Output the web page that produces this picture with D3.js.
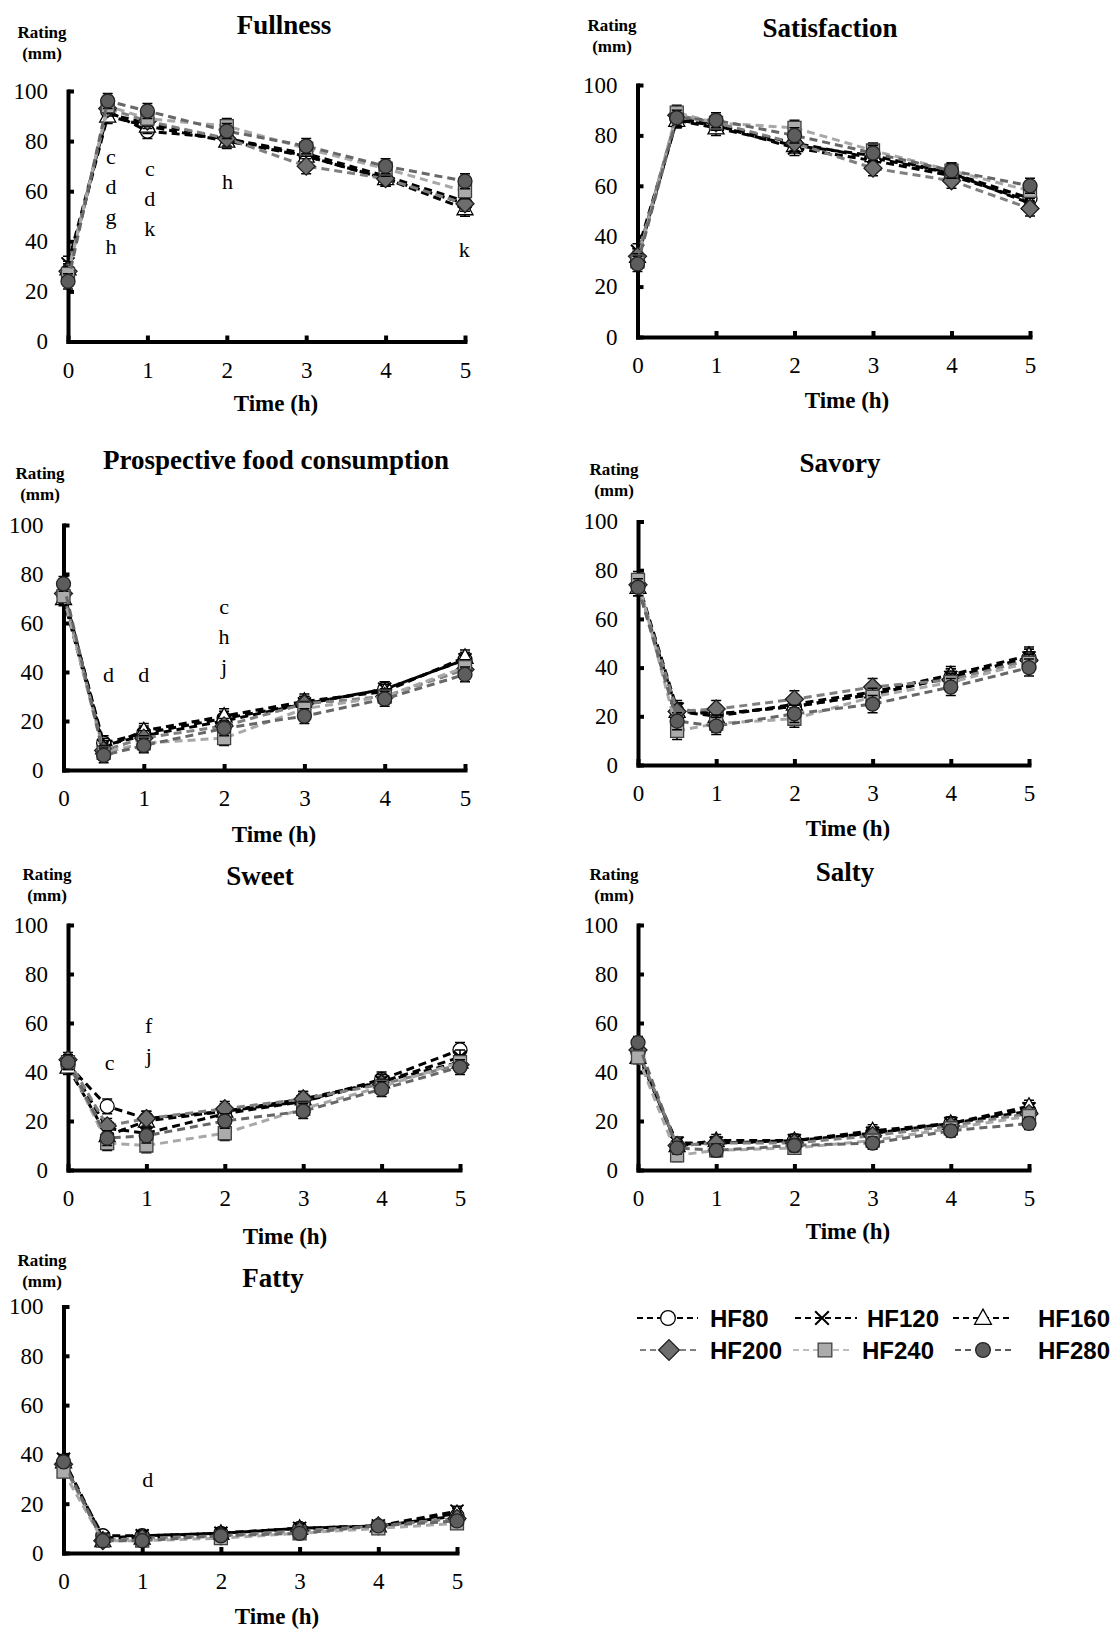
<!DOCTYPE html>
<html>
<head>
<meta charset="utf-8">
<script src="https://cdn.jsdelivr.net/npm/d3@7"></script>
<style>
  body { margin: 0; background: #fff; }
  svg { display: block; }
</style>
</head>
<body>
<svg id="chart" width="1117" height="1632"></svg>
<script>
// time points (h)
const times = [0, 0.5, 1, 2, 3, 4, 5];
const xTicks = [0, 1, 2, 3, 4, 5];
const yTicks = [0, 20, 40, 60, 80, 100];
const seriesNames = ["HF80", "HF120", "HF160", "HF200", "HF240", "HF280"];

// ratings (mm), one row per series in seriesNames order
const fullness = [
  [28, 92, 84, 81, 74, 65, 55],
  [31, 91, 87, 81, 75, 66, 56],
  [29, 90, 86, 80, 74, 65, 53],
  [28, 93, 88, 81, 70, 65, 55],
  [27, 94, 89, 86, 77, 69, 60],
  [24, 96, 92, 84, 78, 70, 64]
];
const satisfaction = [
  [31, 87, 84, 77, 71, 65, 55],
  [34, 86, 84, 75, 70, 64, 54],
  [32, 86, 83, 76, 72, 65, 53],
  [32, 88, 85, 77, 67, 62, 51],
  [30, 89, 85, 83, 74, 66, 58],
  [29, 87, 86, 80, 73, 66, 60]
];
const prospective = [
  [72, 11, 15, 21, 27, 33, 45],
  [73, 10, 14, 20, 27, 33, 45],
  [70, 9, 16, 22, 28, 32, 46],
  [72, 8, 13, 18, 27, 30, 41],
  [71, 7, 11, 13, 25, 30, 42],
  [76, 6, 10, 17, 22, 29, 39]
];
const savory = [
  [74, 22, 21, 24, 29, 36, 44],
  [75, 23, 21, 24, 29, 36, 44],
  [73, 22, 20, 25, 30, 37, 45],
  [74, 22, 23, 27, 32, 35, 43],
  [76, 14, 17, 19, 28, 34, 42],
  [73, 18, 16, 21, 25, 32, 40]
];
const sweet = [
  [43, 26, 21, 24, 28, 37, 49],
  [44, 17, 15, 23, 28, 36, 46],
  [42, 14, 20, 24, 29, 36, 44],
  [45, 18, 21, 25, 29, 35, 43],
  [44, 11, 10, 15, 25, 34, 44],
  [44, 13, 14, 20, 24, 33, 42]
];
const salty = [
  [48, 10, 11, 12, 15, 19, 24],
  [47, 11, 11, 12, 15, 19, 25],
  [46, 10, 12, 12, 16, 19, 26],
  [49, 10, 11, 11, 14, 18, 23],
  [46, 6, 8, 9, 12, 17, 22],
  [52, 9, 8, 10, 11, 16, 19]
];
const fatty = [
  [36, 7, 7, 8, 10, 11, 15],
  [38, 6, 7, 8, 10, 11, 17],
  [37, 5, 6, 8, 10, 11, 16],
  [36, 5, 6, 7, 9, 11, 14],
  [33, 5, 5, 6, 8, 10, 12],
  [37, 5, 5, 7, 8, 11, 13]
];

const panelTitles = ["Fullness", "Satisfaction", "Prospective food consumption",
  "Savory", "Sweet", "Salty", "Fatty"];
const panelData = [fullness, satisfaction, prospective, savory, sweet, salty, fatty];
const panelSem = [3, 3, 3, 3.5, 3, 2.5, 2];

// significance letters: panel index, time, rating of first letter
const annotations = [
  { panel: 0, t: 0.54, v: 74, letters: ["c", "d", "g", "h"] },
  { panel: 0, t: 1.03, v: 69, letters: ["c", "d", "k"] },
  { panel: 0, t: 2.01, v: 64, letters: ["h"] },
  { panel: 0, t: 4.99, v: 37, letters: ["k"] },
  { panel: 2, t: 0.56, v: 39, letters: ["d"] },
  { panel: 2, t: 1.0, v: 39, letters: ["d"] },
  { panel: 2, t: 2.0, v: 67, letters: ["c", "h", "j"] },
  { panel: 4, t: 0.53, v: 44, letters: ["c"] },
  { panel: 4, t: 1.03, v: 59, letters: ["f", "j"] },
  { panel: 6, t: 1.07, v: 30, letters: ["d"] }
];

// panel frames on the page
const layout = [
  { left: 68, right: 465, top: 91, bottom: 341.5, titleX: 284, titleY: 34, ratingX: 42, ratingY: 38, timeX: 276, timeY: 411 },
  { left: 637.5, right: 1030, top: 85, bottom: 337, titleX: 830, titleY: 37, ratingX: 612, ratingY: 31, timeX: 847, timeY: 408 },
  { left: 63.5, right: 465, top: 525, bottom: 770, titleX: 276, titleY: 469, ratingX: 40, ratingY: 479, timeX: 274, timeY: 842 },
  { left: 638, right: 1029, top: 521.5, bottom: 765, titleX: 840, titleY: 472, ratingX: 614, ratingY: 475, timeX: 848, timeY: 836 },
  { left: 68, right: 460, top: 925, bottom: 1170, titleX: 260, titleY: 885, ratingX: 47, ratingY: 880, timeX: 285, timeY: 1244 },
  { left: 638, right: 1029, top: 925, bottom: 1170, titleX: 845, titleY: 881, ratingX: 614, ratingY: 880, timeX: 848, timeY: 1239 },
  { left: 63.5, right: 457, top: 1306.5, bottom: 1553, titleX: 273, titleY: 1287, ratingX: 42, ratingY: 1266, timeX: 277, timeY: 1624 }
];

const styles = [
  { line: "#000", shape: "circle", fill: "#fff", stroke: "#000" },
  { line: "#000", shape: "x", fill: "none", stroke: "#000" },
  { line: "#000", shape: "triangle", fill: "#fff", stroke: "#000" },
  { line: "#7f7f7f", shape: "diamond", fill: "#6e6e6e", stroke: "#1e1e1e" },
  { line: "#a8a8a8", shape: "square", fill: "#ababab", stroke: "#404040" },
  { line: "#676767", shape: "circle", fill: "#5d5d5d", stroke: "#222" }
];

const legendPos = [
  { x1: 637, mx: 668, x2: 698, tx: 710, y: 1318 },
  { x1: 795, mx: 822, x2: 857, tx: 867, y: 1318 },
  { x1: 953, mx: 983, x2: 1013, tx: 1038, y: 1318 },
  { x1: 640, mx: 669, x2: 700, tx: 710, y: 1350 },
  { x1: 793, mx: 825, x2: 853, tx: 862, y: 1350 },
  { x1: 955, mx: 983, x2: 1015, tx: 1038, y: 1350 }
];
const legendLine = ["#000", "#000", "#000", "#808080", "#bdbdbd", "#5a5a5a"];

const serif = "'Liberation Serif', 'Times New Roman', serif";
const sans = "'Liberation Sans', Arial, sans-serif";

function markerPath(shape, k) {
  k = k || 1;
  const p = d3.path();
  if (shape === "circle") {
    p.arc(0, 0, 7 * k, 0, 2 * Math.PI);
  } else if (shape === "triangle") {
    p.moveTo(0, -8.5 * k); p.lineTo(8 * k, 6 * k); p.lineTo(-8 * k, 6 * k); p.closePath();
  } else if (shape === "diamond") {
    p.moveTo(0, -9 * k); p.lineTo(9 * k, 0); p.lineTo(0, 9 * k); p.lineTo(-9 * k, 0); p.closePath();
  } else if (shape === "square") {
    p.rect(-6.5 * k, -6.5 * k, 13 * k, 13 * k);
  } else {
    p.moveTo(-6.5 * k, -6.5 * k); p.lineTo(6.5 * k, 6.5 * k);
    p.moveTo(6.5 * k, -6.5 * k); p.lineTo(-6.5 * k, 6.5 * k);
  }
  return p.toString();
}

const svg = d3.select("#chart");

panelData.forEach((data, pi) => {
  const L = layout[pi];
  const x = d3.scaleLinear().domain([0, 5]).range([L.left, L.right]);
  const y = d3.scaleLinear().domain([0, 100]).range([L.bottom, L.top]);
  const g = svg.append("g");

  // title and axis captions
  g.append("text")
    .attr("x", L.titleX).attr("y", L.titleY)
    .attr("text-anchor", "middle")
    .style("font-family", serif).style("font-weight", "bold").style("font-size", "27px")
    .text(panelTitles[pi]);
  g.append("text")
    .attr("x", L.ratingX).attr("y", L.ratingY)
    .attr("text-anchor", "middle")
    .style("font-family", serif).style("font-weight", "bold").style("font-size", "17px")
    .text("Rating");
  g.append("text")
    .attr("x", L.ratingX).attr("y", L.ratingY + 21)
    .attr("text-anchor", "middle")
    .style("font-family", serif).style("font-weight", "bold").style("font-size", "17px")
    .text("(mm)");
  g.append("text")
    .attr("x", L.timeX).attr("y", L.timeY)
    .attr("text-anchor", "middle")
    .style("font-family", serif).style("font-weight", "bold").style("font-size", "23px")
    .text("Time (h)");

  // axes
  const yAxis = g.append("g")
    .attr("transform", `translate(${L.left},0)`)
    .call(d3.axisLeft(y).tickValues(yTicks).tickFormat(d3.format("d"))
      .tickSize(-6).tickSizeOuter(0).tickPadding(20));
  const xAxis = g.append("g")
    .attr("transform", `translate(0,${L.bottom})`)
    .call(d3.axisBottom(x).tickValues(xTicks).tickFormat(d3.format("d"))
      .tickSize(-6).tickSizeOuter(0).tickPadding(20));
  [yAxis, xAxis].forEach(ax => {
    ax.select(".domain").attr("stroke", "#000").attr("stroke-width", 4).attr("stroke-linecap", "square");
    ax.selectAll(".tick line").attr("stroke", "#000").attr("stroke-width", 4);
    ax.selectAll(".tick text")
      .attr("fill", "#000")
      .style("font-family", serif).style("font-size", "23px");
  });

  // series
  const line = d3.line().x((d, i) => x(times[i])).y(d => y(d));
  data.forEach((vals, si) => {
    const st = styles[si];
    const sg = g.append("g");
    const sem = panelSem[pi];
    sg.selectAll(".err")
      .data(vals)
      .join("path")
      .attr("d", (d, i) => {
        const cx = x(times[i]), y1 = y(d + sem), y2 = y(d - sem);
        return `M${cx - 5},${y1}H${cx + 5}M${cx},${y1}V${y2}M${cx - 5},${y2}H${cx + 5}`;
      })
      .attr("stroke", "#000").attr("stroke-width", 1.5).attr("fill", "none");
    sg.append("path")
      .datum(vals)
      .attr("d", line)
      .attr("fill", "none")
      .attr("stroke", st.line)
      .attr("stroke-width", 3)
      .attr("stroke-dasharray", "8,5");
    sg.selectAll(".mk")
      .data(vals)
      .join("path")
      .attr("transform", (d, i) => `translate(${x(times[i])},${y(d)})`)
      .attr("d", markerPath(st.shape))
      .attr("fill", st.fill)
      .attr("stroke", st.stroke)
      .attr("stroke-width", st.shape === "x" ? 2 : 1.3);
  });

  // significance letters
  annotations.filter(a => a.panel === pi).forEach(a => {
    a.letters.forEach((ch, k) => {
      g.append("text")
        .attr("x", x(a.t)).attr("y", y(a.v) + k * 30)
        .attr("dy", "0.35em")
        .attr("text-anchor", "middle")
        .style("font-family", serif).style("font-size", "22px")
        .text(ch);
    });
  });
});

// legend
const lg = svg.append("g");
seriesNames.forEach((name, si) => {
  const p = legendPos[si];
  const st = styles[si];
  lg.append("line")
    .attr("x1", p.x1).attr("x2", p.x2).attr("y1", p.y).attr("y2", p.y)
    .attr("stroke", legendLine[si]).attr("stroke-width", 2)
    .attr("stroke-dasharray", "6,4");
  lg.append("path")
    .attr("transform", `translate(${p.mx},${p.y})`)
    .attr("d", markerPath(st.shape, st.shape === "diamond" ? 1.15 : 1.05))
    .attr("fill", st.fill)
    .attr("stroke", st.stroke)
    .attr("stroke-width", st.shape === "x" ? 2 : 1.3);
  lg.append("text")
    .attr("x", p.tx).attr("y", p.y + 9)
    .style("font-family", sans).style("font-weight", "bold").style("font-size", "24px")
    .text(name);
});
</script>
</body>
</html>
